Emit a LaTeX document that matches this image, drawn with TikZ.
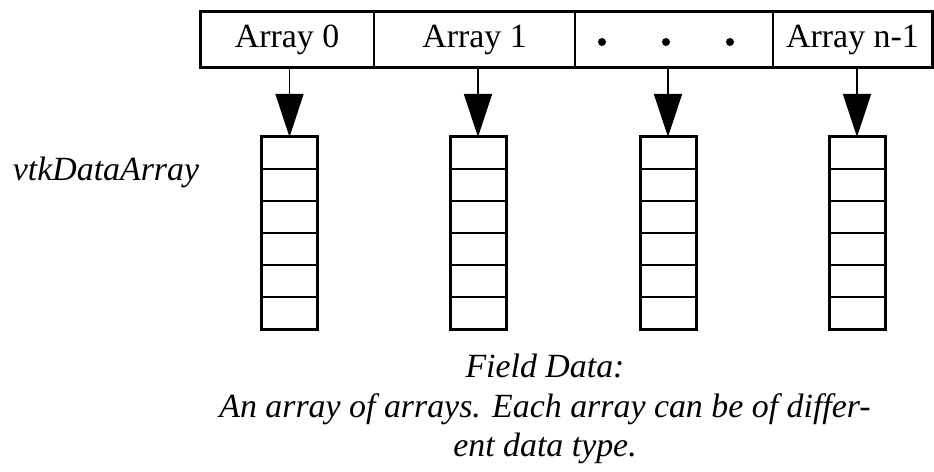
\documentclass[tikz,border=0pt]{standalone}
\usepackage{fontspec}
\setmainfont{Liberation Serif}
\usetikzlibrary{arrows.meta,positioning}

\begin{document}
\begin{tikzpicture}[x=1bp, y=-1bp,
  every node/.style={font=\fontsize{34}{40}\selectfont, outer sep=0pt, inner sep=0pt},
  cell/.style={draw, line width=1.5bp, minimum height=56bp},
  col/.style={draw, line width=3bp, minimum width=56bp, minimum height=192bp},
  slot/.style={line width=1.5bp},
  note/.style={font=\fontsize{34}{40}\selectfont\itshape},
  link/.style={line width=1.5bp, -{Triangle[length=43bp,width=28bp]}}]
  \useasboundingbox (0,0) rectangle (934,472);

  % field data bar
  \node[cell, minimum width=174bp] (cell0) at (287,40) {Array 0};
  \node[cell, minimum width=201bp, right=0pt of cell0] (cell1) {Array 1};
  \node[cell, minimum width=198bp, right=0pt of cell1] (cell2) {};
  \node[cell, minimum width=159bp, right=0pt of cell2] (cell3) {Array n-1};
  \draw[line width=3bp] (cell0.north west) rectangle (cell3.south east);
  \foreach \d in {-72,-8,56}
    \fill ([xshift=\d bp, yshift=-2bp]cell2.center) circle (4bp);

  % the data arrays
  \foreach \i/\x in {0/289.5, 1/478, 2/668, 3/857} {
    \node[col] (col\i) at (\x,233) {};
    \foreach \k in {1,...,5}
      \draw[slot] ([yshift=-32*\k bp]col\i.north west) -- ([yshift=-32*\k bp]col\i.north east);
    \draw[link] (col\i.north |- cell\i.south) -- (col\i.north);
  }

  \node[note] (type) at (106,172) {vtkDataArray};
  \node[note, align=center] (caption) at (545,409)
    {Field Data:\\An array of arrays. Each array can be of differ-\\ent data type.};
\end{tikzpicture}
\end{document}
